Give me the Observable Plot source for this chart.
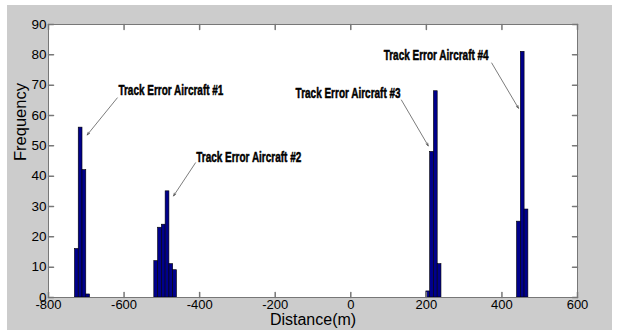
<!DOCTYPE html>
<html>
<head>
<meta charset="utf-8">
<script src="https://cdn.jsdelivr.net/npm/d3@7"></script>
<script src="https://cdn.jsdelivr.net/npm/@observablehq/plot@0.6"></script>
<style>
  html, body { margin: 0; padding: 0; background: white; }
  #wrap { position: relative; width: 617px; height: 330px; overflow: hidden; }
  #fig { position: absolute; left: 7px; top: 5px; width: 605px; height: 325px; background: #cccccc; }
  #chart { position: absolute; left: 0; top: 0; }
</style>
</head>
<body>
<div id="wrap"><div id="fig"></div><div id="chart"></div></div>
<script>
// ---- data ----
const binWidth = 10;
const aircraft1Bins = [-730, -720, -710, -700];
const aircraft1Freq = [16, 56, 42, 1];
const aircraft2Bins = [-520, -510, -500, -490, -480, -470];
const aircraft2Freq = [12, 23, 24, 35, 11, 9];
const aircraft3Bins = [200, 210, 220, 230];
const aircraft3Freq = [2, 48, 68, 11];
const aircraft4Bins = [440, 450, 460];
const aircraft4Freq = [25, 81, 29];

const xTicks = [-800, -600, -400, -200, 0, 200, 400, 600];
const yTicks = [0, 10, 20, 30, 40, 50, 60, 70, 80, 90];

const annotText = ["Track Error Aircraft #1", "Track Error Aircraft #2", "Track Error Aircraft #3", "Track Error Aircraft #4"];
const annotTextX = [-615, -409, -146, 87];
const annotTextY = [68.4, 46.3, 67.4, 80.0];
const arrowTailX = [-618, -411, 134, 373];
const arrowTailY = [65.8, 44.4, 65.1, 77.3];
const arrowTipX = [-697.5, -469, 205, 443.7];
const arrowTipY = [53.6, 33.5, 50.0, 62.4];

// ---- tables ----
const bars = [];
[[aircraft1Bins, aircraft1Freq], [aircraft2Bins, aircraft2Freq], [aircraft3Bins, aircraft3Freq], [aircraft4Bins, aircraft4Freq]]
  .forEach(([bins, freq]) => bins.forEach((b, i) => bars.push({start: b, end: b + binWidth, freq: freq[i]})));

const annots = annotText.map((t, i) => ({
  text: t, tx: annotTextX[i], ty: annotTextY[i],
  x1: arrowTailX[i], y1: arrowTailY[i], x2: arrowTipX[i], y2: arrowTipY[i]
}));

const axisColor = "#777777";
const tickShape = { draw(context, l) { context.moveTo(0, 0); context.lineTo(0, -l); } };

const chart = Plot.plot({
  width: 617,
  height: 330,
  marginLeft: 48,
  marginRight: 40,
  marginTop: 24,
  marginBottom: 33,
  x: {domain: [-800, 600], label: null},
  y: {domain: [0, 90], label: null},
  style: {background: "transparent", fontFamily: "'Liberation Sans', Arial, sans-serif", color: "black", overflow: "visible"},
  marks: [
    Plot.frame({fill: "white", stroke: null}),
    Plot.rectY(bars, {x1: "start", x2: "end", y: "freq", fill: "#00008b", stroke: "black", strokeWidth: 0.6}),
    // inward ticks
    Plot.vector(xTicks, {x: d => d, y: 0, length: 5, rotate: 0, anchor: "start", shape: tickShape, stroke: axisColor}),
    Plot.vector(xTicks, {x: d => d, y: 90, length: 5, rotate: 180, anchor: "start", shape: tickShape, stroke: axisColor}),
    Plot.vector(yTicks, {x: -800, y: d => d, length: 5, rotate: 90, anchor: "start", shape: tickShape, stroke: axisColor}),
    Plot.vector(yTicks, {x: 600, y: d => d, length: 5, rotate: -90, anchor: "start", shape: tickShape, stroke: axisColor}),
    Plot.frame({stroke: axisColor, strokeWidth: 1}),
    Plot.axisX({ticks: xTicks, anchor: "bottom", tickSize: 0, tickPadding: 2, tickFormat: d => String(d), fontSize: 13, label: null}),
    Plot.axisY({ticks: yTicks, anchor: "left", tickSize: 0, tickPadding: 2, tickFormat: d => String(d), fontSize: 13.5, label: null}),
    Plot.text(["Distance(m)"], {frameAnchor: "bottom", dy: 27.5, fontSize: 16, text: d => d}),
    Plot.text(["Frequency"], {frameAnchor: "left", dx: -28, rotate: -90, fontSize: 16.5, text: d => d}),
    Plot.arrow(annots, {x1: "x1", y1: "y1", x2: "x2", y2: "y2", stroke: "#444", strokeWidth: 0.7, headLength: 6, headAngle: 40}),
    Plot.text(annots, {x: "tx", y: "ty", text: "text", textAnchor: "start", fontFamily: "'Liberation Sans Narrow', 'Liberation Sans', sans-serif", fontWeight: "bold", fontSize: 15, fill: "black", stroke: "black", strokeWidth: 0.5})
  ]
});

document.getElementById("chart").appendChild(chart);
chart.querySelectorAll("g[font-family*='Narrow'] text").forEach(t => {
  t.setAttribute("textLength", 105);
  t.setAttribute("lengthAdjust", "spacingAndGlyphs");
});
</script>
</body>
</html>
